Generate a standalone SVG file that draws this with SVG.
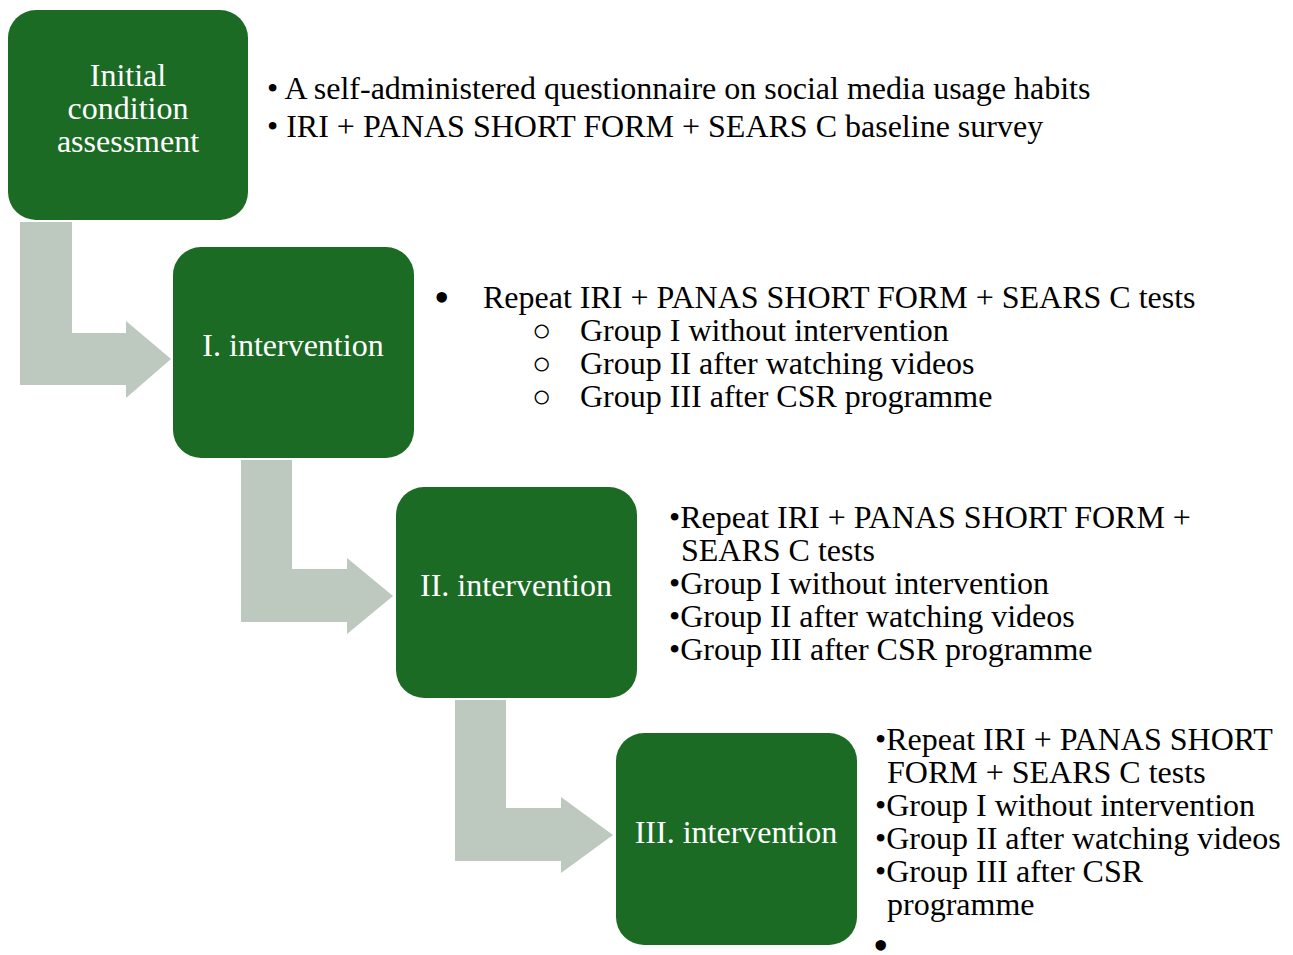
<svg xmlns="http://www.w3.org/2000/svg" width="1293" height="955" viewBox="0 0 1293 955">
<style>
.box{fill:#1b6b24;}
.arr{fill:#bdc8be;}
.bt{font-family:"Liberation Serif","Times New Roman",serif;font-size:32px;fill:#ffffff;text-anchor:middle;}
.tx{font-family:"Liberation Serif","Times New Roman",serif;font-size:32px;fill:#000000;}
.big{font-size:44px;}
</style>
<rect width="1293" height="955" fill="#ffffff"/>
<g id="connectors">
<path class="arr" d="M20,222 H72 V333 H126 V321 L171,359 L126,398 V385 H20 Z"/>
<path class="arr" d="M241,460 H292 V569 H347 V558 L393,596 L347,634 V622 H241 Z"/>
<path class="arr" d="M455,700 H506 V808 H561 V797 L613,835 L561,873 V861 H455 Z"/>
</g>
<g id="node-initial">
<rect class="box" x="8" y="10" width="240" height="210" rx="28"/>
<text class="bt" x="128" y="86">Initial</text>
<text class="bt" x="128" y="119">condition</text>
<text class="bt" x="128" y="152">assessment</text>
</g>
<g id="node-int1">
<rect class="box" x="173" y="247" width="241" height="211" rx="28"/>
<text class="bt" x="293" y="356">I. intervention</text>
</g>
<g id="node-int2">
<rect class="box" x="396" y="487" width="241" height="211" rx="28"/>
<text class="bt" x="516" y="596">II. intervention</text>
</g>
<g id="node-int3">
<rect class="box" x="616" y="733" width="241" height="212" rx="28"/>
<text class="bt" x="736" y="843">III. intervention</text>
</g>
<g id="text-initial">
<text class="tx" x="267" y="99">• A self-administered questionnaire on social media usage habits</text>
<text class="tx" x="267" y="137">• IRI + PANAS SHORT FORM + SEARS C baseline survey</text>
</g>
<g id="text-int1">
<text class="tx big" x="434" y="312">•</text>
<text class="tx" x="483" y="308">Repeat IRI + PANAS SHORT FORM + SEARS C tests</text>
<text class="tx" x="532" y="341">○</text>
<text class="tx" x="580" y="341">Group I without intervention</text>
<text class="tx" x="532" y="374">○</text>
<text class="tx" x="580" y="374">Group II after watching videos</text>
<text class="tx" x="532" y="407">○</text>
<text class="tx" x="580" y="407">Group III after CSR programme</text>
</g>
<g id="text-int2">
<text class="tx" x="669" y="528">•Repeat IRI + PANAS SHORT FORM +</text>
<text class="tx" x="681" y="561">SEARS C tests</text>
<text class="tx" x="669" y="594">•Group I without intervention</text>
<text class="tx" x="669" y="627">•Group II after watching videos</text>
<text class="tx" x="669" y="660">•Group III after CSR programme</text>
</g>
<g id="text-int3">
<text class="tx" x="875" y="750">•Repeat IRI + PANAS SHORT</text>
<text class="tx" x="887" y="783">FORM + SEARS C tests</text>
<text class="tx" x="875" y="816">•Group I without intervention</text>
<text class="tx" x="875" y="849">•Group II after watching videos</text>
<text class="tx" x="875" y="882">•Group III after CSR</text>
<text class="tx" x="887" y="915">programme</text>
<text class="tx big" x="873" y="960">•</text>
</g>
</svg>
